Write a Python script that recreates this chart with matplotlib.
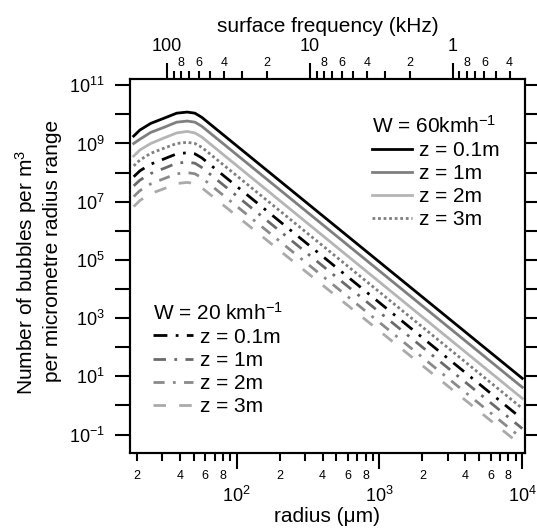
import numpy as np
import matplotlib
matplotlib.use("Agg")
import matplotlib.pyplot as plt
from matplotlib.ticker import LogLocator, FuncFormatter, NullLocator

plt.rcParams['font.family'] = ['Liberation Sans', 'DejaVu Sans']
plt.rcParams['mathtext.fontset'] = 'custom'
plt.rcParams['mathtext.rm'] = 'Liberation Sans'
plt.rcParams['mathtext.it'] = 'Liberation Sans:italic'
plt.rcParams['mathtext.bf'] = 'Liberation Sans:bold'
plt.rcParams['lines.scale_dashes'] = False

# bubble radius (um) and number density per m^3 per um
radius_um = [19, 21, 25, 31, 38, 45, 51, 57, 10000]

w60_z01 = [1.8e9, 2.9e9, 4.9e9, 7.4e9, 1.1e10, 1.2e10, 1.1e10, 7.9e9, 8.5]
w60_z1 = [1.0e9, 1.4e9, 2.4e9, 3.6e9, 5.4e9, 5.9e9, 5.4e9, 3.9e9, 4.2]
w60_z2 = [3.7e8, 6.0e8, 1.0e9, 1.55e9, 2.3e9, 2.6e9, 2.3e9, 1.66e9, 1.74]
w60_z3 = [1.7e8, 2.7e8, 4.6e8, 6.9e8, 1.0e9, 1.1e9, 1.0e9, 7.4e8, 0.79]

w20_z01 = [7.2e7, 1.15e8, 1.95e8, 2.95e8, 4.4e8, 4.8e8, 4.4e8, 3.2e8, 0.34]
w20_z1 = [3.5e7, 5.5e7, 9.3e7, 1.4e8, 2.1e8, 2.3e8, 2.1e8, 1.5e8, 0.16]
w20_z2 = [1.5e7, 2.4e7, 4.1e7, 6.2e7, 9.1e7, 1.0e8, 9.1e7, 6.6e7, 0.072]
w20_z3 = [6.8e6, 1.1e7, 1.9e7, 2.8e7, 4.2e7, 4.6e7, 4.2e7, 3.0e7, 0.040]

z_labels = ['z = 0.1m', 'z = 1m', 'z = 2m', 'z = 3m']
title60 = 'W = 60kmh$^{-1}$'
title20 = 'W = 20 kmh$^{-1}$'

freq_const = 3260.0   # f(kHz) * r(um), resonance of the bubble
xlim = (17.9, 10450)
ylim = (10 ** -1.646, 10 ** 11.216)

# line styles
st60 = [dict(color='k'), dict(color='#7f7f7f'), dict(color='#b5b5b5'),
        dict(color='#7f7f7f', dashes=(2, 2))]
st20 = [dict(color='k', dashes=(10, 6, 2, 6)), dict(color='#6a6a6a', dashes=(9, 6, 2, 6)),
        dict(color='#8a8a8a', dashes=(8, 6, 2, 6)), dict(color='#aaaaaa', dashes=(9, 9.5))]

fig = plt.figure(figsize=(5.37, 5.31), dpi=100)
ax = fig.add_axes([130 / 537, 1 - 453.3 / 531, 395 / 537, 374.3 / 531])

h60 = []
for vals, st in zip([w60_z01, w60_z1, w60_z2, w60_z3], st60):
    l, = ax.plot(radius_um, vals, lw=2.0, **st)
    h60.append(l)
h20 = []
for vals, st in zip([w20_z01, w20_z1, w20_z2, w20_z3], st20):
    l, = ax.plot(radius_um, vals, lw=2.0, **st)
    h20.append(l)

ax.set_xscale('log')
ax.set_yscale('log')
ax.set_xlim(*xlim)
ax.set_ylim(*ylim)


def minor_lab(v, pos):
    d = int(round(v / 10 ** np.floor(np.log10(v) + 1e-9)))
    return str(d) if d in (2, 4, 6, 8) else ''


def odd_dec(v, pos):
    e = int(round(np.log10(v)))
    return '$\\mathdefault{10^{%d}}$' % e if e % 2 else ''


ax.xaxis.set_major_locator(LogLocator(base=10, numticks=20))
ax.xaxis.set_minor_locator(LogLocator(base=10, subs=np.arange(2, 10), numticks=20))
ax.xaxis.set_minor_formatter(FuncFormatter(minor_lab))
ax.yaxis.set_major_locator(LogLocator(base=10, numticks=30))
ax.yaxis.set_minor_locator(NullLocator())
ax.yaxis.set_major_formatter(FuncFormatter(odd_dec))

ax.tick_params(which='both', direction='out', width=1.5, top=False, right=True)
ax.tick_params(axis='x', which='major', length=11.3, labelsize=13, pad=12)
ax.tick_params(axis='x', which='minor', length=5.8, labelsize=9, pad=6.5)
ax.tick_params(axis='y', which='major', length=11, labelsize=13, pad=7)
for s in ax.spines.values():
    s.set_linewidth(1.5)

ax.set_xlabel('radius (\u03bcm)', fontsize=15, labelpad=1)

# top axis: resonance frequency
ax2 = ax.twiny()
ax2.set_xscale('log')
ax2.set_xlim(freq_const / xlim[0], freq_const / xlim[1])
ax2.xaxis.set_major_locator(LogLocator(base=10, numticks=20))
ax2.xaxis.set_major_formatter(FuncFormatter(lambda v, p: '%g' % v))
ax2.xaxis.set_minor_locator(LogLocator(base=10, subs=np.arange(2, 10), numticks=20))
ax2.xaxis.set_minor_formatter(FuncFormatter(minor_lab))
ax2.tick_params(which='both', direction='out', width=1.5)
ax2.tick_params(axis='x', which='major', length=11.3, labelsize=13, pad=6)
ax2.tick_params(axis='x', which='minor', length=5.8, labelsize=9, pad=1.5)
for s in ax2.spines.values():
    s.set_linewidth(1.5)
ax2.set_xlabel('surface frequency (kHz)', fontsize=15, labelpad=4)

# y label in two lines
fig.text(33 / 537, 1 - 272 / 531, 'Number of bubbles per m$^3$', rotation=90,
         rotation_mode='anchor', ha='center', va='baseline', fontsize=15)
fig.text(58 / 537, 1 - 251 / 531, 'per micrometre radius range', rotation=90,
         rotation_mode='anchor', ha='center', va='baseline', fontsize=15)

leg_kw = dict(loc='upper left', frameon=False, fontsize=15, title_fontsize=15,
              handlelength=1.92, handletextpad=0.35, labelspacing=0.2,
              borderpad=0, borderaxespad=0, alignment='left')
leg1 = ax2.legend(h60, z_labels, title=title60, bbox_to_anchor=(0.6127, 0.904), **leg_kw)
ax2.add_artist(leg1)
ax2.legend(h20, z_labels, title=title20, bbox_to_anchor=(0.0575, 0.405), **leg_kw)

fig.savefig('out.png', dpi=100)
